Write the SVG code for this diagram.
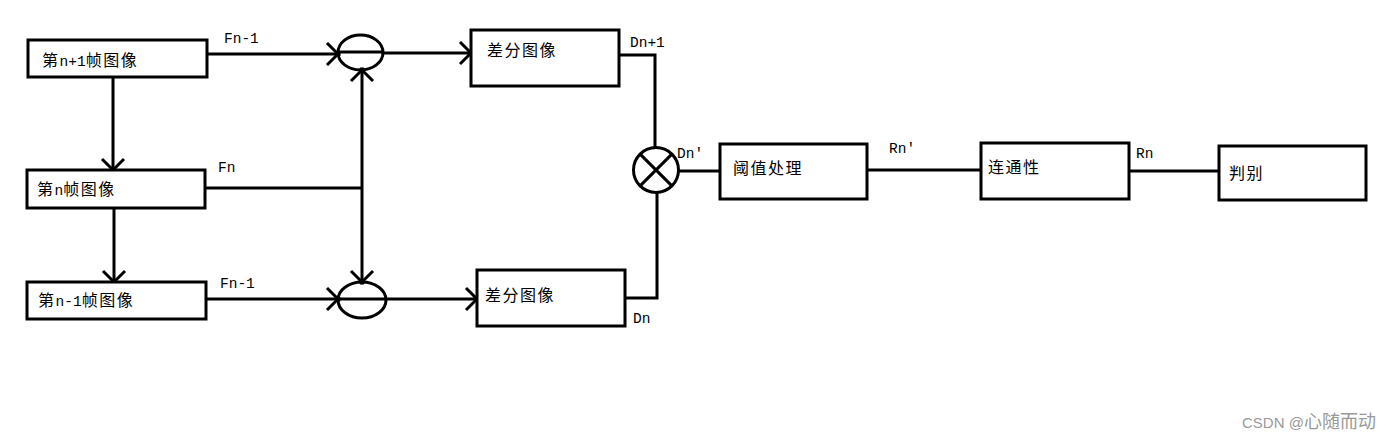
<svg xmlns="http://www.w3.org/2000/svg" width="1393" height="440" viewBox="0 0 1393 440">
<style>
.box{fill:#fff;stroke:#000;stroke-width:3}
.op{fill:none;stroke:#000;stroke-width:3}
.ln{fill:none;stroke:#000;stroke-width:3}
.t{font-family:"Noto Sans CJK SC",sans-serif;font-size:16px;letter-spacing:1.5px;fill:#000}
.t .m{font-family:"Liberation Mono",monospace;font-size:14.5px;letter-spacing:0}
.lb{font-family:"Liberation Mono","Noto Sans CJK SC",monospace;font-size:14.5px;fill:#000}
.wm{font-family:"Liberation Sans","Noto Sans CJK SC",sans-serif;fill:#999}
</style>
<defs>
<marker id="ah" markerUnits="userSpaceOnUse" markerWidth="30" markerHeight="30" refX="0" refY="0" viewBox="-15 -15 30 30" orient="auto" overflow="visible">
<path d="M-11,-11 L2,2 M-11,11 L2,-2" fill="none" stroke="#000" stroke-width="3"/>
</marker>
</defs>
<rect width="1393" height="440" fill="#fff"/>
<g id="connectors">
<path class="ln" d="M207,54 H338" marker-end="url(#ah)"/>
<path class="ln" d="M383,53 H471" marker-end="url(#ah)"/>
<path class="ln" d="M113,77 V170" marker-end="url(#ah)"/>
<path class="ln" d="M114,208 V282" marker-end="url(#ah)"/>
<path class="ln" d="M205,188 H363"/>
<path class="ln" d="M362,188 V70" marker-end="url(#ah)"/>
<path class="ln" d="M362,188 V282" marker-end="url(#ah)"/>
<path class="ln" d="M206,299 H338" marker-end="url(#ah)"/>
<path class="ln" d="M386,299 H477" marker-end="url(#ah)"/>
<path class="ln" d="M619,55 H655 V148"/>
<path class="ln" d="M625,298 H657 V193"/>
<path class="ln" d="M678,171 H720"/>
<path class="ln" d="M867,170 H981"/>
<path class="ln" d="M1129,171 H1219"/>
<text class="lb" x="224" y="43">Fn-1</text>
<text class="lb" x="218" y="172">Fn</text>
<text class="lb" x="220" y="288">Fn-1</text>
<text class="lb" x="630" y="47">Dn+1</text>
<text class="lb" x="633" y="323">Dn</text>
<text class="lb" x="677" y="158">Dn'</text>
<text class="lb" x="889" y="153">Rn'</text>
<text class="lb" x="1136" y="158">Rn</text>
</g>
<g id="frame_n_plus_1">
<rect class="box" x="28" y="40" width="179" height="37"/>
<text class="t" x="42" y="66">第<tspan class="m">n+1</tspan>帧图像</text>
</g>
<g id="frame_n">
<rect class="box" x="27" y="170" width="178" height="38"/>
<text class="t" x="37" y="195">第<tspan class="m">n</tspan>帧图像</text>
</g>
<g id="frame_n_minus_1">
<rect class="box" x="27" y="282" width="179" height="37"/>
<text class="t" x="38" y="306">第<tspan class="m">n-1</tspan>帧图像</text>
</g>
<g id="sub_top">
<ellipse class="op" cx="360.5" cy="52.5" rx="22.5" ry="17.5"/>
<path class="ln" d="M338,52 H383"/>
</g>
<g id="sub_bottom">
<ellipse class="op" cx="362" cy="300" rx="24" ry="18"/>
<path class="ln" d="M338,299 H386"/>
</g>
<g id="diff_top">
<rect class="box" x="471" y="30" width="148" height="56"/>
<text class="t" x="487" y="56">差分图像</text>
</g>
<g id="diff_bottom">
<rect class="box" x="477" y="270" width="148" height="56"/>
<text class="t" x="485" y="301">差分图像</text>
</g>
<g id="mult">
<circle class="op" cx="656" cy="170" r="22.5"/>
<path class="ln" d="M640.1,154.1 L671.9,185.9 M671.9,154.1 L640.1,185.9"/>
</g>
<g id="threshold">
<rect class="box" x="720" y="144" width="147" height="55"/>
<text class="t" x="733" y="174">阈值处理</text>
</g>
<g id="connectivity">
<rect class="box" x="981" y="143" width="148" height="56"/>
<text class="t" x="988" y="173">连通性</text>
</g>
<g id="judge">
<rect class="box" x="1219" y="146" width="147" height="54"/>
<text class="t" x="1229" y="179">判别</text>
</g>
<text class="wm" x="1242" y="428"><tspan font-size="15">CSDN @</tspan><tspan font-size="18">心随而动</tspan></text>
</svg>
